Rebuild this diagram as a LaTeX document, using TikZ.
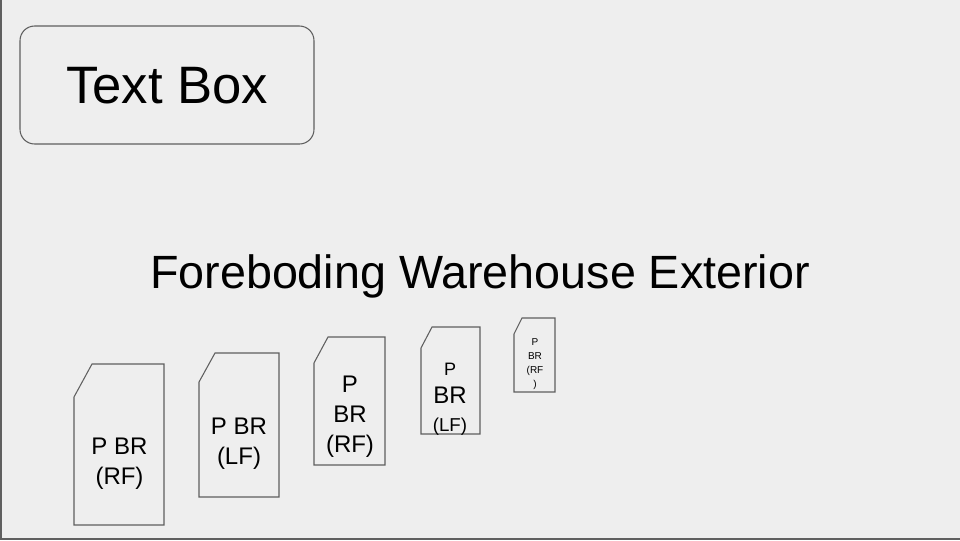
\documentclass[tikz,border=0pt]{standalone}
\usepackage{fontspec}
\setmainfont{Liberation Sans}
\definecolor{slidebg}{HTML}{EEEEEE}
\definecolor{edgegray}{HTML}{5F5F5F}

\begin{document}
\begin{tikzpicture}[x=0.75pt,y=-0.75pt,
        card/.style={draw=edgegray,line width=0.8pt},
        cardtext/.style={align=center,inner sep=0pt}]
    \fill [slidebg] (0,0) rectangle (960,540);
    \useasboundingbox (0,0) rectangle (960,540);
    \draw [edgegray,line width=1.4pt] (0.9,0) -- (0.9,539.1) -- (960,539.1);
    \draw [card,rounded corners=11pt] (20,26) rectangle (314,144);
    \node [anchor=base,inner sep=0pt,font=\fontsize{39.5}{44}\selectfont] (textbox) at (167,103) {Text Box};
    \node [anchor=base,inner sep=0pt,font=\fontsize{35}{40}\selectfont] (title) at (480,288) {Foreboding Warehouse Exterior};
    \draw [card] (74,397) -- (92,364) -- (164,364) -- (164,525) -- (74,525) -- cycle
        node [cardtext,font=\fontsize{18}{22.5}\selectfont] (brone) at (119.5,464) {P BR\\(RF)};
    \draw [card] (199,382) -- (215,353) -- (279,353) -- (279,497) -- (199,497) -- cycle
        node [cardtext,font=\fontsize{18}{22.5}\selectfont] (brtwo) at (239,444) {P BR\\(LF)};
    \draw [card] (314,363) -- (328,337) -- (385,337) -- (385,465) -- (314,465) -- cycle
        node [cardtext,font=\fontsize{18}{22.5}\selectfont] (brthree) at (350,417) {P\\BR\\(RF)};
    \draw [card] (421,348) -- (432,327) -- (480,327) -- (480,434) -- (421,434) -- cycle
        node [anchor=base,inner sep=0pt,font=\fontsize{13.5}{16}\selectfont] (brfourp) at (450,375) {P}
        node [anchor=base,inner sep=0pt,font=\fontsize{18}{22}\selectfont] (brfourbr) at (450,403) {BR}
        node [anchor=base,inner sep=0pt,font=\fontsize{14}{16}\selectfont] (brfourlf) at (450,431) {(LF)};
    \draw [card] (514,334) -- (522,318) -- (555,318) -- (555,392) -- (514,392) -- cycle
        node [cardtext,font=\fontsize{7.5}{10.7}\selectfont] (brfive) at (535,364) {P\\BR\\(RF\\)};
\end{tikzpicture}
\end{document}
